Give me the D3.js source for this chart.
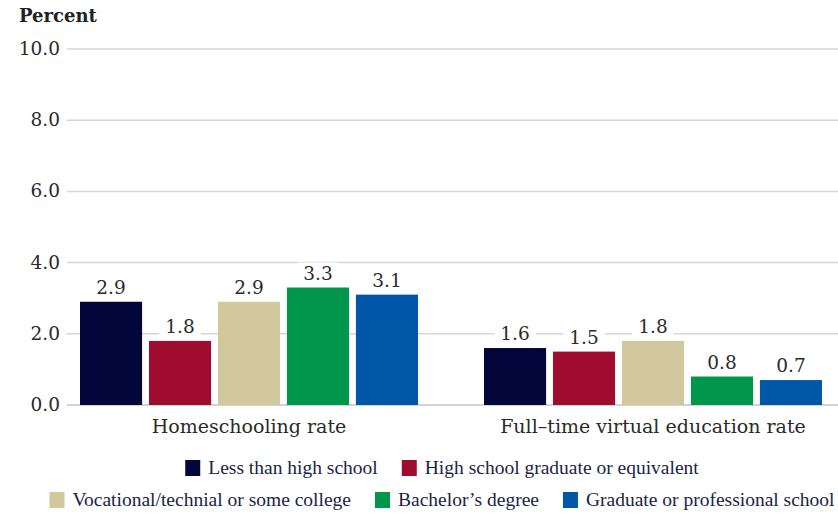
<!DOCTYPE html>
<html><head><meta charset="utf-8">
<script src="https://cdn.jsdelivr.net/npm/d3@7"></script>
<style>body{margin:0;background:#fff}svg{display:block}</style>
</head><body><svg id="c" width="838" height="514"></svg>
<script>
const categories = ["Homeschooling rate", "Full\u2013time virtual education rate"];
const seriesNames = ["Less than high school", "High school graduate or equivalent", "Vocational/technial or some college", "Bachelor\u2019s degree", "Graduate or professional school"];
const homeschooling = [2.9, 1.8, 2.9, 3.3, 3.1];
const virtualEd = [1.6, 1.5, 1.8, 0.8, 0.7];
const colors = ["#02063a", "#a00c30", "#d2c89e", "#00964b", "#0057a8"];
const yTicks = [0, 2, 4, 6, 8, 10];

const values = [homeschooling, virtualEd];
const svg = d3.select("#c");
const serif = "'DejaVu Serif', serif";

const y = d3.scaleLinear().domain([0, 10]).range([405, 49]);
const x0 = d3.scaleBand().domain(categories).range([47, 855]);
const x1 = d3.scaleBand().domain(seriesNames).range([0, 338]).paddingInner(0.1);
const groupOffset = (x0.bandwidth() - 338) / 2;

// grid
const grid = svg.append("g");
yTicks.forEach(t => {
  grid.append("line").attr("x1", 67).attr("x2", 838).attr("y1", y(t)).attr("y2", y(t))
    .attr("stroke", t === 0 ? "#c4c4c4" : "#d6d6d6").attr("stroke-width", 1.5);
  grid.append("text").attr("x", 60).attr("y", y(t) + 6).attr("text-anchor", "end")
    .attr("font-family", serif).attr("font-size", 18.5).attr("fill", "#2a2a2a").text(t.toFixed(1));
});

svg.append("text").attr("x", 19).attr("y", 22).attr("font-family", serif).attr("font-weight", "bold")
  .attr("font-size", 18).attr("fill", "#222").text("Percent");

// bars
categories.forEach((c, ci) => {
  const g = svg.append("g").attr("transform", `translate(${x0(c) + groupOffset},0)`);
  values[ci].forEach((v, si) => {
    const bx = x1(seriesNames[si]);
    g.append("rect").attr("x", bx).attr("y", y(v)).attr("width", x1.bandwidth())
      .attr("height", y(0) - y(v)).attr("fill", colors[si]);
    const cx = bx + x1.bandwidth() / 2;
    const t = g.append("text").attr("x", cx).attr("y", y(v) - 8).attr("text-anchor", "middle")
      .attr("font-family", serif).attr("font-size", 18.5).attr("fill", "#2a2a2a").text(v.toFixed(1));
    const bb = t.node().getBBox();
    g.insert("rect", "text").attr("x", bb.x - 6).attr("y", bb.y).attr("width", bb.width + 12)
      .attr("height", bb.height).attr("fill", "#fff");
  });
  svg.append("text").attr("x", x0(c) + x0.bandwidth() / 2).attr("y", 433).attr("text-anchor", "middle")
    .attr("font-family", serif).attr("font-size", 19).attr("fill", "#2a2a2a").text(c);
});

// legend
const rows = [[0, 1], [2, 3, 4]];
const rowY = [468, 500];
const lg = svg.append("g");
rows.forEach((row, ri) => {
  const items = row.map(si => {
    const it = lg.append("g");
    it.append("rect").attr("x", 0).attr("y", -8).attr("width", 15).attr("height", 16).attr("fill", colors[si]);
    const tx = it.append("text").attr("x", 23).attr("y", 6).attr("font-family", "'Liberation Serif', serif")
      .attr("font-size", 19.5).attr("fill", "#1b2447").text(seriesNames[si]);
    return {g: it, w: 23 + tx.node().getComputedTextLength()};
  });
  const gap = 24;
  const total = d3.sum(items, d => d.w) + gap * (items.length - 1);
  let cx = 442 - total / 2;
  items.forEach(it => { it.g.attr("transform", `translate(${cx},${rowY[ri]})`); cx += it.w + gap; });
});
</script></body></html>
